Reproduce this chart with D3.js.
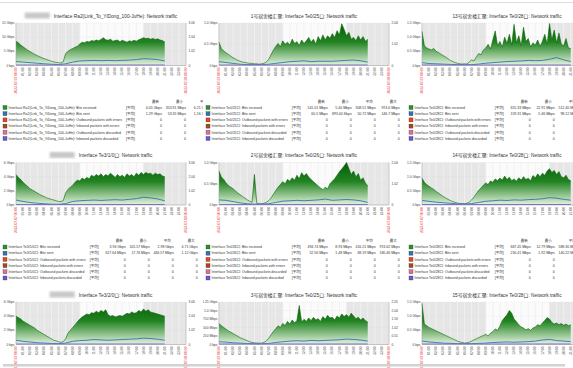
<!DOCTYPE html>
<html>
<head>
<meta charset="utf-8">
<script src="https://cdn.jsdelivr.net/npm/d3@7"></script>
<style>
  body { margin: 0; background: #fff; overflow: hidden; }
  svg { display: block; }
</style>
</head>
<body>
<div id="chart"></div>
<script>
// ---- data (9 traffic graphs, 3x3) ----
const titles = [
  "Interface Ra2(Link_To_YiDong_100-JuHe): Network traffic",
  "1号宿舍楼汇聚: Interface Te0/25口: Network traffic",
  "13号宿舍楼汇聚: Interface Te0/28口: Network traffic",
  "Interface Te3/1/0口: Network traffic",
  "2号宿舍楼汇聚: Interface Te0/26口: Network traffic",
  "14号宿舍楼汇聚: Interface Te0/28口: Network traffic",
  "Interface Te3/2/0口: Network traffic",
  "3号宿舍楼汇聚: Interface Te0/25口: Network traffic",
  "15号宿舍楼汇聚: Interface Te0/28口: Network traffic"
];
const hiddenHost = [true, false, false, true, false, false, true, false, false];
const ifaces = [
  "Interface Ra2(Link_To_YiDong_100-JuHe)", "Interface Te0/25口", "Interface Te0/28口",
  "Interface Te3/1/0口", "Interface Te0/26口", "Interface Te0/28口",
  "Interface Te3/2/0口", "Interface Te0/25口", "Interface Te0/28口"
];

// left axis ticks (Gbps) and their labels, right axis labels
const yTicks = [[0,5,10,15],[0,0.5,1],[0,0.5,1,1.5],[0,2,4,6],[0,0.5,1],[0,0.5,1,1.5],[0,2,4,6],[0,0.25,0.5,0.75,1,1.25],[0,0.5,1,1.5]];
const yTickText = [
  ["0 bps","5 Gbps","10 Gbps","15 Gbps"],
  ["0 bps","0.5 Gbps","1.0 Gbps"],
  ["0 bps","0.5 Gbps","1.0 Gbps","1.5 Gbps"],
  ["0 bps","2 Gbps","4 Gbps","6 Gbps"],
  ["0 bps","0.5 Gbps","1.0 Gbps"],
  ["0 bps","0.5 Gbps","1.0 Gbps","1.5 Gbps"],
  ["0 bps","2 Gbps","4 Gbps","6 Gbps"],
  ["0 bps","250 Mbps","500 Mbps","750 Mbps","1.0 Gbps","1.25 Gbps"],
  ["0 bps","0.5 Gbps","1.0 Gbps","1.5 Gbps"]
];
const rightTickText = [
  ["0","1.02","2.04","3.06"], ["0","1.02","2.04"], ["0","1.02","2.04","3.06"],
  ["0","1.02","2.04","3.06"], ["0","1.02","2.04"], ["0","1.02","2.04","3.06"],
  ["0","1.02","2.04","3.06"], ["0","0.51","1.02","1.53","2.04","2.55"], ["0","1.02","2.04","3.06"]
];

// time axis: one day, hourly labels
const hourTicks = d3.range(0, 25);
const firstLabel = "2023-07-07 00:00";
const lastLabel = "2023-07-08 00:00";
const workStart = 9, workEnd = 18;

// bits received, Gbps, 3 samples per hour from 00:00
const rx1 = [8.6,8.0,7.2, 6.6,6.0,5.4, 4.9,4.4,3.9, 3.5,3.1,2.7, 2.4,2.1,1.8, 1.5,1.3,1.1, 1.0,0.9,1.3, 4.2,5.0,5.6, 6.0,6.4,6.8, 7.6,8.2,8.0, 8.5,8.3,8.8, 8.6,9.0,8.7, 9.2,9.8,9.1, 8.9,9.3,8.6, 8.8,9.0,8.4, 8.9,8.6,8.2, 8.7,8.5,8.9, 8.6,9.1,9.4, 9.8,9.5,9.6, 9.3,9.5,9.2, 9.4,9.0,8.8, 8.3];
const rx2 = [0.55,0.40,0.34, 0.30,0.26,0.22, 0.18,0.15,0.12, 0.10,0.08,0.07, 0.06,0.05,0.05, 0.04,0.04,0.03, 0.04,0.05,0.08, 0.14,0.25,0.36, 0.45,0.52,0.44, 0.58,0.50,0.55, 0.48,0.62,0.52, 0.56,0.47,0.60, 0.52,0.58,0.66, 0.55,0.62,0.50, 0.68,0.58,0.72, 0.60,0.70,0.64, 0.75,0.66,0.82, 0.72,0.98,0.85, 0.70,0.78,0.62, 0.66,0.58,0.70, 0.60,0.68,0.57, 0.62];
const rx3 = [1.20,0.70,0.62, 0.58,0.55,0.60, 0.50,0.46,0.40, 0.35,0.30,0.24, 0.18,0.14,0.10, 0.08,0.06,0.05, 0.06,0.05,0.12, 0.20,0.16,0.30, 0.42,0.38,0.55, 0.62,0.75,0.58, 0.90,1.22,0.70, 0.85,0.65,1.00, 0.78,1.10,0.72, 1.45,0.80,1.05, 0.70,1.35,0.85, 0.95,0.65,0.80, 0.72,0.90,0.68, 0.85,1.10,0.75, 1.48,0.90,1.25, 0.80,1.15,0.75, 0.70,0.95,0.62, 0.60];
const rx4 = [4.3,3.9,3.6, 3.2,2.9,2.6, 2.3,2.1,1.9, 1.7,1.5,1.3, 1.2,1.0,0.9, 0.8,0.7,0.6, 0.5,0.5,0.6, 1.7,2.2,2.5, 2.8,3.2,3.5, 3.4,3.8,3.6, 3.9,3.7,4.2, 4.0,4.3,4.1, 4.4,4.0,4.3, 4.1,4.5,4.2, 3.9,4.3,4.0, 4.2,3.9,4.4, 4.1,4.3,4.0, 4.5,4.2,4.6, 4.3,4.6,4.4, 4.5,4.2,4.5, 4.3,4.4,4.1, 4.0];
const rx5 = [0.80,0.66,0.60, 0.52,0.46,0.42, 0.38,0.33,0.28, 0.24,0.20,0.16, 0.12,0.09,0.06, 0.72,0.04,0.03, 0.03,0.04,0.06, 0.10,0.16,0.25, 0.34,0.42,0.48, 0.55,0.50,0.60, 0.56,0.64,0.58, 0.70,0.62,0.76, 0.68,0.74,0.66, 0.60,0.55,0.50, 0.45,0.40,0.36, 0.42,0.38,0.50, 0.56,0.62,0.70, 0.78,0.85,0.92, 1.00,0.86,0.72, 0.80,0.66,0.74, 0.58,0.64,0.52, 0.45];
const rx6 = [0.95,0.80,0.72, 0.66,0.60,0.55, 0.48,0.42,0.36, 0.30,0.25,0.20, 0.16,0.12,0.09, 0.07,0.05,0.05, 0.05,0.06,0.10, 0.18,0.28,0.40, 0.52,0.60,0.70, 0.78,0.72,0.85, 0.80,0.92,0.86, 0.95,0.88,1.02, 0.90,0.98,0.86, 0.92,0.84,0.96, 0.88,1.00,0.90, 0.94,0.86,1.04, 0.96,1.10,1.00, 1.12,1.05,1.20, 1.28,1.15,1.22, 1.08,1.18,1.00, 0.96,1.05,0.90, 0.86];
const rx7 = [4.0,3.8,3.6, 3.3,3.1,2.9, 2.7,2.5,2.3, 2.0,1.8,1.6, 1.4,1.2,1.0, 0.8,0.6,0.5, 0.4,0.3,0.4, 0.8,1.6,2.0, 2.4,2.8,3.2, 3.6,3.9,4.1, 4.3,4.2,4.5, 4.4,4.7,4.5, 4.8,4.6,4.9, 4.2,4.0,4.1, 3.9,4.0,4.1, 4.0,4.2,4.4, 4.3,4.6,4.4, 4.5,4.8,4.6, 5.0,4.7,4.9, 4.6,4.5,4.4, 4.3,4.2,4.1, 4.0];
const rx8 = [0.62,0.55,0.50, 0.45,0.40,0.36, 0.32,0.28,0.24, 0.20,0.17,0.14, 0.11,0.08,0.06, 0.05,0.04,0.04, 0.04,0.06,0.10, 0.18,0.28,0.38, 0.46,0.55,0.50, 0.62,0.56,0.68, 0.60,0.72,0.64, 0.70,1.15,0.66, 0.74,0.68,0.78, 0.70,0.80,0.72, 0.76,0.68,0.82, 0.74,0.86,0.78, 0.80,0.72,0.84, 0.78,0.90,0.82, 0.88,0.80,0.92, 0.84,0.76,0.80, 0.72,0.78,0.70, 0.66];
const rx9 = [1.45,0.72,0.66, 0.60,0.56,0.52, 0.48,0.44,0.40, 0.36,0.32,0.28, 0.24,0.20,0.16, 0.12,0.09,0.07, 0.05,0.06,0.08, 0.12,0.16,0.20, 0.24,0.28,0.32, 0.36,0.30,0.40, 0.45,0.55,0.50, 0.65,0.85,0.95, 1.05,1.20,1.10, 0.90,0.80,0.70, 0.62,0.58,0.52, 0.56,0.50,0.58, 0.62,0.70,0.66, 0.76,0.85,0.95, 0.90,0.78,0.72, 0.76,0.70,0.74, 0.68,0.72,0.66, 0.70];

// bits sent, Gbps, hourly from 00:00
const tx1 = [1.4,1.2,1.0,0.8,0.6,0.45,0.35,0.6,1.2,1.6,1.7,1.8,1.7,1.8,1.7,1.8,1.9,2.1,2.4,2.3,2.1,1.6];
const tx2 = [0.09,0.07,0.05,0.03,0.02,0.02,0.02,0.03,0.05,0.07,0.09,0.10,0.11,0.09,0.10,0.10,0.10,0.11,0.12,0.13,0.11,0.08];
const tx3 = [0.10,0.07,0.06,0.05,0.04,0.03,0.03,0.03,0.05,0.08,0.10,0.12,0.14,0.15,0.16,0.18,0.17,0.18,0.22,0.28,0.20,0.14];
const tx4 = [0.7,0.5,0.35,0.25,0.18,0.12,0.1,0.2,0.5,0.6,0.65,0.7,0.65,0.7,0.75,0.7,0.8,0.9,1.1,1.0,0.85,0.6];
const tx5 = [0.12,0.11,0.08,0.05,0.03,0.02,0.02,0.03,0.06,0.09,0.10,0.11,0.10,0.11,0.12,0.14,0.11,0.12,0.13,0.12,0.10,0.06];
const tx6 = [0.16,0.13,0.10,0.08,0.06,0.04,0.03,0.05,0.09,0.13,0.15,0.17,0.16,0.18,0.17,0.19,0.20,0.22,0.26,0.24,0.20,0.17];
const tx7 = [0.6,0.45,0.35,0.25,0.2,0.15,0.12,0.2,0.45,0.55,0.6,0.7,0.65,0.6,0.65,0.7,0.75,0.8,0.9,0.85,0.75,0.6];
const tx8 = [0.08,0.07,0.05,0.04,0.03,0.02,0.02,0.03,0.06,0.08,0.10,0.11,0.10,0.12,0.11,0.12,0.13,0.14,0.16,0.15,0.13,0.10];
const tx9 = [0.12,0.09,0.07,0.05,0.04,0.03,0.03,0.03,0.04,0.05,0.07,0.08,0.09,0.08,0.09,0.10,0.12,0.16,0.18,0.14,0.12,0.10];

// legend
const seriesNames = ["Bits received","Bits sent","Outbound packets with errors","Inbound packets with errors","Outbound packets discarded","Inbound packets discarded"];
const seriesColors = ["#1e9b1e","#2f74b5","#f0401c","#a04c18","#e56aa6","#6a56d8"];
const statHeads = ["最新","最小","平均","最大"];
const rxStats = [
  ["4.05 Gbps","353.91 Mbps","6.21 Gbps","10.38 Gbps"],
  ["541.01 Mbps","5.40 Mbps","308.51 Mbps","974.6 Mbps"],
  ["655.33 Mbps","22.91 Mbps","512.40 Mbps","1.46 Gbps"],
  ["3.94 Gbps","105.57 Mbps","2.98 Gbps","4.71 Gbps"],
  ["494.74 Mbps","8.93 Mbps","416.21 Mbps","974.62 Mbps"],
  ["667.45 Mbps","12.79 Mbps","588.30 Mbps","1.29 Gbps"],
  ["3.88 Gbps","98.40 Mbps","3.02 Gbps","5.01 Gbps"],
  ["612.80 Mbps","7.62 Mbps","420.33 Mbps","1.15 Gbps"],
  ["702.16 Mbps","18.20 Mbps","470.54 Mbps","1.45 Gbps"]
];
const txStats = [
  ["1.29 Gbps","53.35 Mbps","1.16 Gbps","2.63 Gbps"],
  ["60.5 Mbps","893.40 Kbps","50.72 Mbps","146.7 Mbps"],
  ["159.31 Mbps","5.46 Mbps","98.12 Mbps","291.5 Mbps"],
  ["617.64 Mbps","17.76 Mbps","446.57 Mbps","1.12 Gbps"],
  ["52.56 Mbps","1.48 Mbps","68.19 Mbps","180.46 Mbps"],
  ["216.41 Mbps","1.92 Mbps","140.22 Mbps","262.10 Mbps"],
  ["602.11 Mbps","15.40 Mbps","470.02 Mbps","1.05 Gbps"],
  ["98.30 Mbps","1.20 Mbps","86.41 Mbps","176.33 Mbps"],
  ["101.25 Mbps","2.87 Mbps","82.64 Mbps","190.08 Mbps"]
];

const rxAll = [rx1, rx2, rx3, rx4, rx5, rx6, rx7, rx8, rx9];
const txAll = [tx1, tx2, tx3, tx4, tx5, tx6, tx7, tx8, tx9];

// ---- drawing ----
const width = 573, height = 368;
const colPitch = 203, rowPitch = 139.5;
const font = "'Liberation Sans', 'Noto Sans CJK SC', sans-serif";

const svg = d3.select("#chart").append("svg")
  .attr("width", width)
  .attr("height", height)
  .attr("font-family", font);

const defs = svg.append("defs");
defs.append("filter").attr("id", "blur")
  .append("feGaussianBlur").attr("stdDeviation", 1.2);

svg.append("line")
  .attr("x1", 0).attr("x2", width).attr("y1", 2.5).attr("y2", 2.5)
  .attr("stroke", "#dedede").attr("stroke-width", 1);

function pad(h) { return (h < 10 ? "0" : "") + h + ":00"; }

function drawPanel(i) {
  const col = i % 3, row = Math.floor(i / 3);
  const ox = col * colPitch, oy = row * rowPitch;

  // each widget cell clips what spills out of it (like the dashboard does)
  const cw = col === 2 ? width - ox : colPitch;
  const cellRight = ox + cw, cellBottom = oy + 5 + rowPitch;
  defs.append("clipPath").attr("id", "cell" + i)
    .append("rect")
    .attr("x", ox).attr("y", oy + 5)
    .attr("width", cw).attr("height", rowPitch);
  const g = svg.append("g").attr("clip-path", `url(#cell${i})`);

  const ticks = yTicks[i];
  const x = d3.scaleLinear().domain([0, 24]).range([ox + 16, ox + 186]);
  const y = d3.scaleLinear().domain([0, d3.max(ticks)]).range([oy + 65.5, oy + 23]);
  const [pl, pr] = x.range();
  const [pb, pt] = y.range();

  // title (with redacted host block)
  const title = g.append("text")
    .attr("y", oy + 17.5)
    .attr("font-size", 4.8)
    .attr("fill", "#333")
    .text(titles[i]);
  const tw = title.node().getComputedTextLength();
  const blockW = hiddenHost[i] ? 25 : 0;
  const total = tw + (blockW ? blockW + 4 : 0);
  const start = (pl + pr) / 2 - total / 2;
  if (blockW) {
    g.append("rect")
      .attr("x", start).attr("y", oy + 12.5)
      .attr("width", blockW).attr("height", 6)
      .attr("fill", "#c8c8c8")
      .attr("filter", "url(#blur)");
  }
  title.attr("x", start + (blockW ? blockW + 4 : 0));

  // background: grey outside working hours
  g.append("rect").attr("x", pl).attr("y", pt).attr("width", pr - pl).attr("height", pb - pt)
    .attr("fill", "#e6e6e6");
  g.append("rect").attr("x", x(workStart)).attr("y", pt).attr("width", x(workEnd) - x(workStart)).attr("height", pb - pt)
    .attr("fill", "#fbfbfb");

  // grid
  g.append("g").selectAll("line").data(hourTicks).join("line")
    .attr("x1", d => x(d)).attr("x2", d => x(d))
    .attr("y1", pt).attr("y2", pb)
    .attr("stroke", d => (d >= workStart && d <= workEnd) ? "#ececec" : "#f6f6f6")
    .attr("stroke-width", 0.6);
  g.append("g").selectAll("line").data(ticks).join("line")
    .attr("x1", pl).attr("x2", pr)
    .attr("y1", d => y(d)).attr("y2", d => y(d))
    .attr("stroke", "#d8d8d8").attr("stroke-width", 0.4)
    .attr("stroke-dasharray", "1,1");

  // gradient for received area
  const gid = "grad" + i;
  const grad = defs.append("linearGradient").attr("id", gid)
    .attr("gradientUnits", "userSpaceOnUse")
    .attr("x1", 0).attr("x2", 0).attr("y1", pt).attr("y2", pb);
  grad.append("stop").attr("offset", 0).attr("stop-color", "#035e03");
  grad.append("stop").attr("offset", 0.45).attr("stop-color", "#228322");
  grad.append("stop").attr("offset", 1).attr("stop-color", "#e6f3df");

  const rx = rxAll[i], tx = txAll[i];
  const area = d3.area()
    .x((d, j) => x(j / 3))
    .y0(y(0))
    .y1(d => y(d));
  const rxLine = d3.line().x((d, j) => x(j / 3)).y(d => y(d));
  g.append("path").datum(rx).attr("d", area).attr("fill", `url(#${gid})`);
  g.append("path").datum(rx).attr("d", rxLine)
    .attr("fill", "none").attr("stroke", "#0c650c").attr("stroke-width", 0.6);

  const txLine = d3.line().x((d, j) => x(j)).y(d => y(d));
  g.append("path").datum(tx).attr("d", txLine)
    .attr("fill", "none").attr("stroke", "#2f74b5").attr("stroke-width", 0.9);

  // discarded / errors series sit on zero
  g.append("line")
    .attr("x1", x(0)).attr("x2", x((rx.length - 1) / 3))
    .attr("y1", y(0) - 0.5).attr("y2", y(0) - 0.5)
    .attr("stroke", "#7a66d6").attr("stroke-width", 1);

  // axes lines
  g.append("line").attr("x1", pl).attr("x2", pl).attr("y1", pt).attr("y2", pb)
    .attr("stroke", "#9a9a9a").attr("stroke-width", 0.5);
  g.append("line").attr("x1", pr).attr("x2", pr).attr("y1", pt).attr("y2", pb)
    .attr("stroke", "#9a9a9a").attr("stroke-width", 0.5);
  g.append("line").attr("x1", pl).attr("x2", pr).attr("y1", pb).attr("y2", pb)
    .attr("stroke", "#9a9a9a").attr("stroke-width", 0.5);

  // left / right tick labels
  g.append("g").selectAll("text").data(ticks).join("text")
    .attr("x", pl - 1.5).attr("y", d => y(d))
    .attr("dy", "0.35em")
    .attr("text-anchor", "end")
    .attr("font-size", 3.3)
    .attr("fill", "#444")
    .text((d, k) => yTickText[i][k]);
  g.append("g").selectAll("text").data(ticks).join("text")
    .attr("x", pr + 2.5).attr("y", d => y(d))
    .attr("dy", "0.35em")
    .attr("font-size", 3.3)
    .attr("fill", "#444")
    .text((d, k) => rightTickText[i][k]);

  // time labels
  g.append("g").selectAll("text").data(hourTicks).join("text")
    .attr("transform", d => `translate(${x(d) + 1.1},${pb + 2}) rotate(-90)`)
    .attr("text-anchor", "end")
    .attr("font-size", 3.3)
    .attr("fill", (d, k) => (k === 0 || k === hourTicks.length - 1) ? "#e8383a" : "#555")
    .text((d, k) => k === 0 ? firstLabel : k === hourTicks.length - 1 ? lastLabel : pad(d % 24));

  // legend
  const ly = oy + 107.5, lstep = 6.2;
  const lg = g.append("g").attr("font-size", 3.5).attr("fill", "#333");
  const names = lg.selectAll("text.name").data(seriesNames).join("text")
    .attr("class", "name")
    .attr("x", ox + 8.5).attr("y", (d, k) => ly + k * lstep)
    .attr("dy", "0.35em")
    .text(d => `${ifaces[i]}: ${d}`);
  let maxW = 0;
  names.each(function() { maxW = Math.max(maxW, this.getComputedTextLength()); });
  lg.selectAll("rect").data(seriesColors).join("rect")
    .attr("x", ox + 3).attr("y", (d, k) => ly + k * lstep - 2)
    .attr("width", 4).attr("height", 4)
    .attr("fill", d => d)
    .attr("stroke", "#333").attr("stroke-width", 0.3);

  const bx = ox + 8.5 + maxW + 4;
  lg.selectAll("text.avg").data(seriesNames).join("text")
    .attr("class", "avg")
    .attr("x", bx).attr("y", (d, k) => ly + k * lstep)
    .attr("dy", "0.35em")
    .text("[平均]");

  const colRight = [bx + 36, bx + 60, bx + 84, bx + 108];
  lg.selectAll("text.head").data(statHeads).join("text")
    .attr("class", "head")
    .attr("x", (d, k) => colRight[k] - 3).attr("y", oy + 101.5)
    .attr("dy", "0.35em")
    .attr("text-anchor", "end")
    .text(d => d);
  seriesNames.forEach((s, k) => {
    const vals = k === 0 ? rxStats[i] : k === 1 ? txStats[i] : ["0","0","0","0"];
    lg.append("g").selectAll("text").data(vals).join("text")
      .attr("x", (d, c) => colRight[c]).attr("y", ly + k * lstep)
      .attr("dy", "0.35em")
      .attr("text-anchor", "end")
      .text(d => d);
  });

  // texts that fall wholly outside the cell are never seen: drop them
  g.selectAll("text").each(function() {
    const b = this.getBBox();
    const m = this.getCTM();
    const left = m ? m.a * b.x + m.c * b.y + m.e : b.x;
    const top = m ? Math.min(m.b * b.x + m.d * b.y + m.f, m.b * b.x + m.d * (b.y + b.height) + m.f) : b.y;
    if (left >= cellRight || top >= cellBottom) d3.select(this).remove();
  });
}

d3.range(9).forEach(drawPanel);

// bottom scroll bar
svg.append("rect")
  .attr("x", 3).attr("y", 364).attr("width", 562).attr("height", 2.5)
  .attr("fill", "#d2d2d2");
</script>
</body>
</html>
